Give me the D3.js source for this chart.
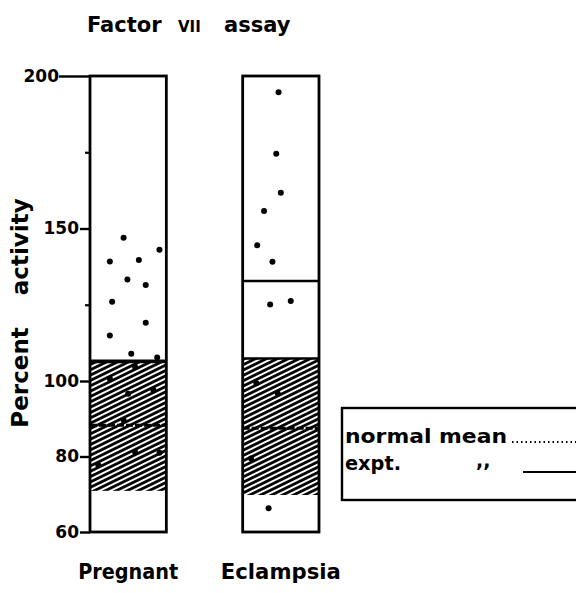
<!DOCTYPE html>
<html>
<head>
<meta charset="utf-8">
<script src="https://cdn.jsdelivr.net/npm/d3@7"></script>
<style>
  body { margin: 0; background: #fff; }
  svg { display: block; }
  text { font-family: "DejaVu Sans", sans-serif; fill: #000; }
</style>
</head>
<body>
<script>
// groups and their readings (percent activity)
var groups = ["Pregnant", "Eclampsia"];

var pregnantValues = [147.0, 143.0, 139.2, 139.7, 133.3, 131.5, 126.0, 119.1, 114.9, 108.9, 107.7,
  104.6, 100.7, 96.6, 97.6, 89.7, 81.2, 81.0, 77.7];
// where across the column each dot sits (0 = left, 1 = right)
var pregnantSpread = [0.44, 0.91, 0.26, 0.64, 0.49, 0.73, 0.29, 0.73, 0.26, 0.54, 0.88,
  0.59, 0.26, 0.50, 0.83, 0.44, 0.59, 0.91, 0.11];

var eclampsiaValues = [194.7, 174.5, 161.7, 155.7, 144.5, 139.1, 125.1, 126.2, 99.4, 96.7, 79.5, 66.3];
var eclampsiaSpread = [0.47, 0.44, 0.50, 0.28, 0.19, 0.39, 0.36, 0.63, 0.18, 0.46, 0.11, 0.34];

var normalLow = [70.9, 69.8];
var normalHigh = [106.6, 107.4];
var normalMean = [88.3, 87.5];
var exptMean = [106.2, 132.8];

var tickValues = [60, 80, 100, 150, 200];
var minorTicks = [125, 175];

var width = 576, height = 593;

var svg = d3.select("body").append("svg")
  .attr("width", width)
  .attr("height", height);

// hand drawn axis is stretched below 100
var y = d3.scaleLinear().domain([60, 100, 200]).range([532, 381, 76]);
var x = d3.scaleBand().domain(groups).range([90, 319]).paddingInner(0.5).paddingOuter(0);
var spread = d3.scaleLinear().domain([0, 1]).range([0, x.bandwidth()]);

// hatch pattern
var defs = svg.append("defs");
var pat = defs.append("pattern")
  .attr("id", "hatch")
  .attr("patternUnits", "userSpaceOnUse")
  .attr("width", 10)
  .attr("height", 4.8)
  .attr("patternTransform", "rotate(-26)");
pat.append("rect").attr("width", 10).attr("height", 4.8).attr("fill", "#fff");
pat.append("line")
  .attr("x1", 0).attr("x2", 10)
  .attr("y1", 2.4).attr("y2", 2.4)
  .attr("stroke", "#000")
  .attr("stroke-width", 2.8);

// title
var title = svg.append("text")
  .attr("y", 32)
  .attr("font-size", 21)
  .attr("font-weight", "bold");
title.append("tspan").attr("x", 87).text("Factor");
title.append("tspan").attr("x", 178).attr("font-size", 15).text("VII");
title.append("tspan").attr("x", 224).text("assay");

// columns
var col = svg.selectAll("g.col")
  .data(groups)
  .enter().append("g")
  .attr("class", "col");

col.append("rect")
  .attr("x", function (d) { return x(d); })
  .attr("y", function (d, i) { return y(normalHigh[i]); })
  .attr("width", x.bandwidth())
  .attr("height", function (d, i) { return y(normalLow[i]) - y(normalHigh[i]); })
  .attr("fill", "url(#hatch)");

col.append("line")
  .attr("x1", function (d) { return x(d); })
  .attr("x2", function (d) { return x(d) + x.bandwidth(); })
  .attr("y1", function (d, i) { return y(normalHigh[i]); })
  .attr("y2", function (d, i) { return y(normalHigh[i]); })
  .attr("stroke", "#000")
  .attr("stroke-width", 2.5);

col.append("line")
  .attr("x1", function (d) { return x(d); })
  .attr("x2", function (d) { return x(d) + x.bandwidth(); })
  .attr("y1", function (d, i) { return y(normalMean[i]); })
  .attr("y2", function (d, i) { return y(normalMean[i]); })
  .attr("stroke", "#000")
  .attr("stroke-width", 3)
  .attr("stroke-dasharray", "7,2");

col.append("line")
  .attr("x1", function (d) { return x(d); })
  .attr("x2", function (d) { return x(d) + x.bandwidth(); })
  .attr("y1", function (d, i) { return y(exptMean[i]); })
  .attr("y2", function (d, i) { return y(exptMean[i]); })
  .attr("stroke", "#000")
  .attr("stroke-width", 2.5);

col.append("rect")
  .attr("x", function (d) { return x(d); })
  .attr("y", y(200))
  .attr("width", x.bandwidth())
  .attr("height", y(60) - y(200))
  .attr("fill", "none")
  .attr("stroke", "#000")
  .attr("stroke-width", 2.8);

// dots
var dotSets = [
  { values: pregnantValues, spread: pregnantSpread },
  { values: eclampsiaValues, spread: eclampsiaSpread }
];
dotSets.forEach(function (s, gi) {
  svg.append("g").selectAll("circle")
    .data(s.values)
    .enter().append("circle")
    .attr("cx", function (d, i) { return x(groups[gi]) + spread(s.spread[i]); })
    .attr("cy", function (d) { return y(d); })
    .attr("r", 3)
    .attr("fill", "#000");
});

// y axis on the first column's left edge
var axis = svg.append("g")
  .attr("transform", "translate(" + x(groups[0]) + ",0)")
  .call(d3.axisLeft(y).tickValues(tickValues).tickSize(10).tickPadding(1).tickFormat(d3.format("d")));
axis.select(".domain").remove();
axis.selectAll("line").attr("stroke", "#000").attr("stroke-width", 2.4);
axis.selectAll("text")
  .attr("font-size", 17)
  .attr("font-weight", "bold")
  .attr("font-family", "'Liberation Sans Narrow', 'DejaVu Sans Condensed', sans-serif")
  .attr("fill", "#000");
axis.selectAll(".tick").filter(function (d) { return d === 200; })
  .each(function () {
    d3.select(this).select("line").attr("x2", -31);
    d3.select(this).select("text").attr("x", -31);
  });

svg.append("g")
  .attr("transform", "translate(" + x(groups[0]) + ",0)")
  .call(d3.axisLeft(y).tickValues(minorTicks).tickSize(5).tickFormat(""))
  .call(function (g) {
    g.select(".domain").remove();
    g.selectAll("line").attr("stroke", "#000").attr("stroke-width", 2.2);
  });

// axis title
svg.append("text")
  .attr("transform", "translate(28,313) rotate(-90)")
  .attr("text-anchor", "middle")
  .attr("font-size", 23)
  .attr("font-weight", "bold")
  .attr("word-spacing", 24)
  .text("Percent activity");

// group labels
var labelWidths = [100, 120];
svg.selectAll("text.grp")
  .data(groups)
  .enter().append("text")
  .attr("class", "grp")
  .attr("x", function (d) { return x(d) + x.bandwidth() / 2; })
  .attr("y", 579)
  .attr("text-anchor", "middle")
  .attr("font-size", 22)
  .attr("font-weight", "bold")
  .attr("textLength", function (d, i) { return labelWidths[i]; })
  .attr("lengthAdjust", "spacingAndGlyphs")
  .text(function (d) { return d; });

// legend
var lg = svg.append("g");
lg.append("rect")
  .attr("x", 342).attr("y", 408)
  .attr("width", 250).attr("height", 92)
  .attr("fill", "none")
  .attr("stroke", "#000")
  .attr("stroke-width", 2.4);
lg.append("text")
  .attr("x", 345).attr("y", 443)
  .attr("font-size", 19)
  .attr("font-weight", "bold")
  .attr("textLength", 162)
  .attr("lengthAdjust", "spacingAndGlyphs")
  .text("normal mean");
lg.append("line")
  .attr("x1", 512).attr("x2", 576)
  .attr("y1", 442).attr("y2", 442)
  .attr("stroke", "#000")
  .attr("stroke-width", 1.8)
  .attr("stroke-dasharray", "1.5,3");
lg.append("text")
  .attr("x", 345).attr("y", 470)
  .attr("font-size", 19)
  .attr("font-weight", "bold")
  .attr("textLength", 56)
  .attr("lengthAdjust", "spacingAndGlyphs")
  .text("expt.");
lg.append("text")
  .attr("x", 476).attr("y", 467)
  .attr("font-size", 19)
  .attr("font-weight", "bold")
  .text(",,");
lg.append("line")
  .attr("x1", 523).attr("x2", 576)
  .attr("y1", 472).attr("y2", 472)
  .attr("stroke", "#000")
  .attr("stroke-width", 2.2);
</script>
</body>
</html>
